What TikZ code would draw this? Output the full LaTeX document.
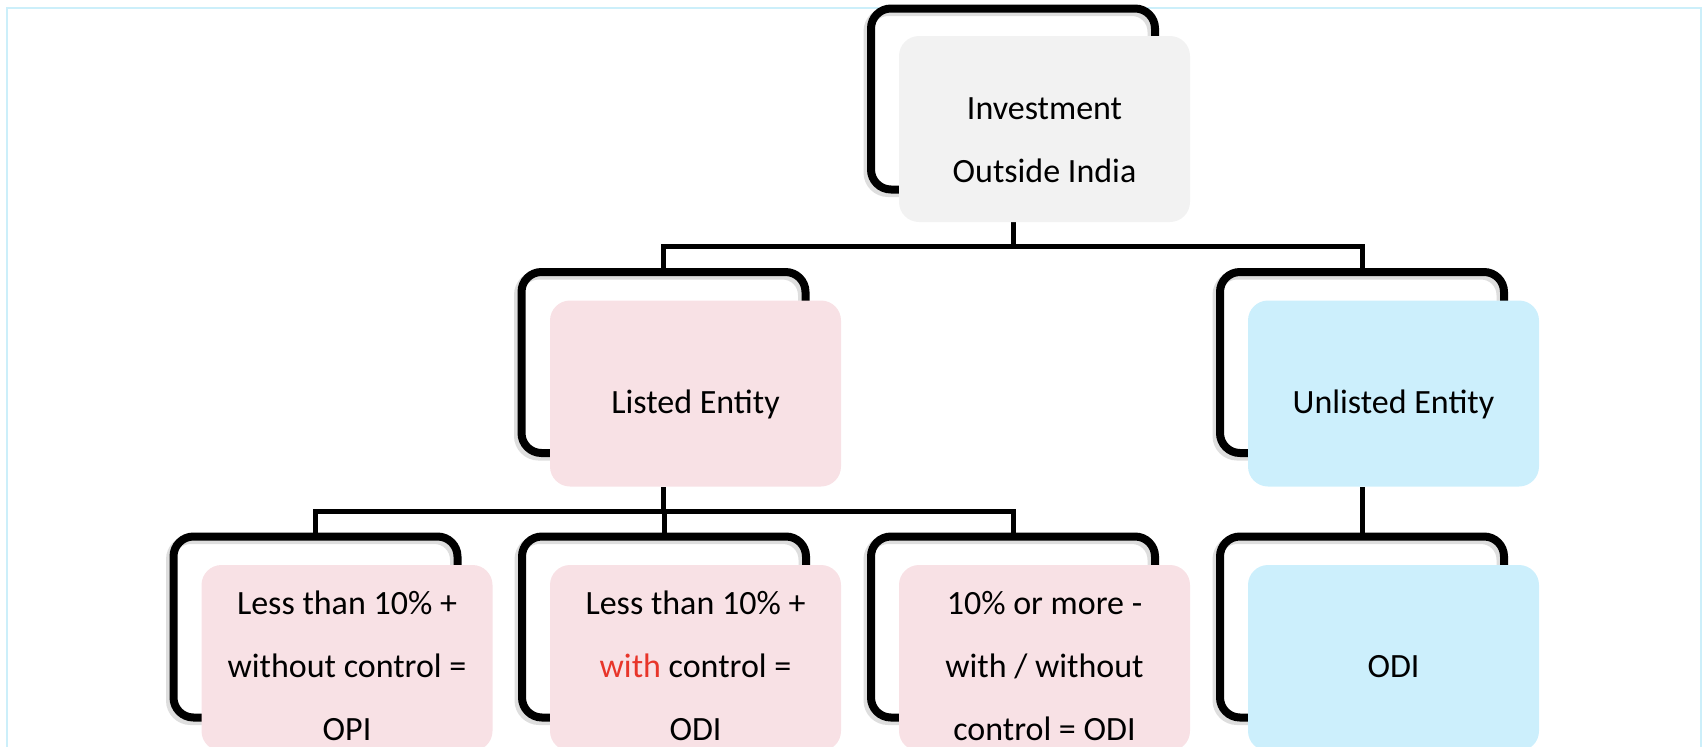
\documentclass[tikz,border=0pt]{standalone}
\usepackage{fontspec}
\setmainfont{Carlito}

\definecolor{rootfill}{HTML}{F2F2F2}
\definecolor{pinkfill}{HTML}{F8E1E5}
\definecolor{bluefill}{HTML}{CCEFFC}
\definecolor{edgeblue}{HTML}{CCEFFA}
\definecolor{accentred}{HTML}{E8352A}

% struts that fix where the text block sits inside a card
\newcommand\topstrut{\rule{0pt}{46pt}}
\newcommand\roottopstrut{\rule{0pt}{50pt}}
\newcommand\botstrut{\rule[-7pt]{0pt}{7pt}}

\begin{document}
\begin{tikzpicture}[x=1pt,y=-1pt,
  outline/.style={rectangle, rounded corners=20pt, draw=black, line width=8pt,
    minimum width=284pt, minimum height=181pt, inner sep=0pt, outer sep=0pt,
    preaction={draw=black!13, line width=9pt,
      transform canvas={xshift=-3pt,yshift=-3pt}}},
  card/.style={rectangle, rounded corners=20pt, minimum width=291pt,
    minimum height=186pt, inner sep=0pt, outer sep=0pt, align=center,
    font=\fontsize{34}{63}\selectfont},
  conn/.style={draw=black, line width=5pt},
  edge/.style={draw=edgeblue, line width=2.2pt}]

\useasboundingbox (0,0) rectangle (1703,747);
\clip (0,0) rectangle (1703,747);

% page frame
\draw[edge] (7,760) -- (7,8) -- (1701,8) -- (1701,760);

% black outlines behind the cards
\node[outline] (f-root)     at (1013,99)     {};
\node[outline] (f-listed)   at (663.5,362.5) {};
\node[outline] (f-unlisted) at (1362,362.5)  {};
\node[outline] (f-opi)      at (315.5,627)   {};
\node[outline] (f-odi1)     at (664,627)     {};
\node[outline] (f-odi2)     at (1013,627)    {};
\node[outline] (f-odi3)     at (1362,627)    {};

% connectors
\draw[conn] (1013,222) -- (1013,246) coordinate (j-root);
\draw[conn] (j-root) -| (f-listed.north);
\draw[conn] (j-root) -| (f-unlisted.north);
\draw[conn] (663.5,487) -- (663.5,511) coordinate (j-listed);
\draw[conn] (j-listed) -| (f-opi.north);
\draw[conn] (j-listed) -| (f-odi1.north);
\draw[conn] (j-listed) -| (f-odi2.north);
\draw[conn] (1362,487) -- (f-odi3.north);

% cards
\node[card, fill=rootfill] (root) at (1044.5,129)
  {\roottopstrut Investment\\Outside India\botstrut};
\node[card, fill=pinkfill] (listed)   at (695.5,393.5)  {\topstrut Listed Entity\botstrut};
\node[card, fill=bluefill] (unlisted) at (1393.5,393.5) {\topstrut Unlisted Entity\botstrut};
\node[card, fill=pinkfill] (opi)       at (347,658)
  {\topstrut Less than 10\% +\\without control =\\OPI\botstrut};
\node[card, fill=pinkfill] (odi-ctrl)  at (695.5,658)
  {\topstrut Less than 10\% +\\\textcolor{accentred}{with} control =\\ODI\botstrut};
\node[card, fill=pinkfill] (odi-major) at (1044.5,658)
  {\topstrut 10\% or more -\\with / without\\control = ODI\botstrut};
\node[card, fill=bluefill] (odi)       at (1393.5,658)  {\topstrut ODI\botstrut};
\end{tikzpicture}
\end{document}
